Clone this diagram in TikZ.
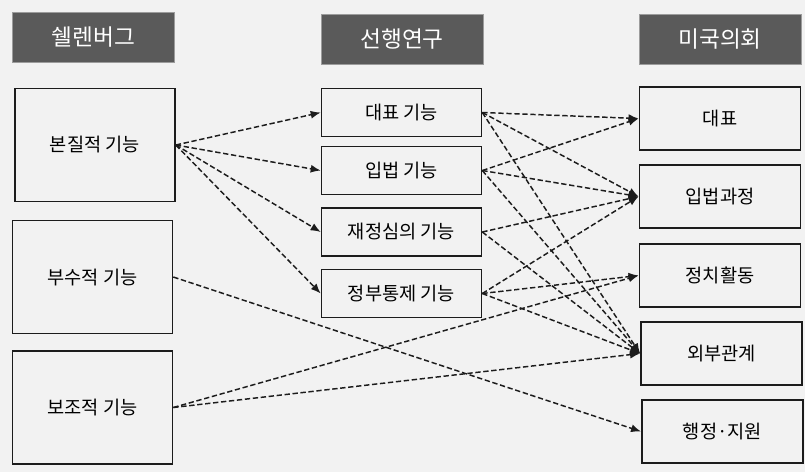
\documentclass[tikz,border=0pt]{standalone}
\usepackage{fontspec}
\setmainfont{Noto Sans CJK KR}
\usepackage{xcolor}
\usetikzlibrary{positioning,arrows.meta}
\definecolor{bgcol}{HTML}{F2F2F2}
\definecolor{headcol}{HTML}{5A5A5A}
\definecolor{linecol}{HTML}{1C1C1C}

\begin{document}
\begin{tikzpicture}[x=0.75pt,y=-0.75pt,
          arrowstyle/.style={->, line width=1.1pt, draw=linecol, dash pattern=on 4pt off 2pt,
                             >={Latex[length=7.5pt, width=6pt]}}]
          % Box styles
          \tikzstyle{headnode} = [fill=headcol, draw=headcol!60, text=white, rectangle, text centered,
                                  minimum width=121.5pt, minimum height=37.5pt, inner sep=0pt,
                                  font=\fontsize{17}{20}\selectfont]
          \tikzstyle{boxnode} = [draw=linecol, line width=1.2pt, rectangle, text centered, inner sep=0pt,
                                 font=\fontsize{14}{17}\selectfont]
          \tikzstyle{bignode} = [boxnode, minimum width=120pt, minimum height=84.75pt]
          \tikzstyle{midnode} = [boxnode, minimum width=120pt, minimum height=36pt]
          \tikzstyle{endnode} = [boxnode, minimum width=121pt, minimum height=47pt]

          % Background and page size
          \fill[bgcol] (0,0) rectangle (805,472);
          \useasboundingbox (0,0) rectangle (805,472);

          % Column headings
          \node (Schellenberg) [headnode] at (93.5,37) {쉘렌버그};
          \node (Prior)        [headnode] at (402,39) {선행연구};
          \node (Congress)     [headnode] at (720,39) {미국의회};

          % Left column
          \node (Essential)  [bignode] at (95,145)    {본질적 기능};
          \node (Incidental) [bignode] at (92.5,277)  {부수적 기능};
          \node (Auxiliary)  [bignode] at (92.5,407.5) {보조적 기능};

          % Middle column
          \node (RepFn)  [midnode] at (401.5,112.5) {대표 기능};
          \node (LegFn)  [midnode] at (401.5,170.5) {입법 기능};
          \node (FinFn)  [midnode] at (401.5,232)   {재정심의 기능};
          \node (CtrlFn) [midnode] at (401.5,293.5) {정부통제 기능};

          % Right column
          \node (Rep)      [endnode] at (720,118.5)   {대표};
          \node (Legis)    [endnode] at (720,196.5)   {입법과정};
          \node (Politic)  [endnode] at (720,275.5)   {정치활동};
          \node (External) [endnode] at (721.5,353.5) {외부관계};
          \node (Admin)    [endnode] at (722.5,431.5) {행정·지원};

          % Arrows from the left column
          \draw[arrowstyle] (Essential.east) -- (RepFn.west);
          \draw[arrowstyle] (Essential.east) -- (LegFn.west);
          \draw[arrowstyle] (Essential.east) -- (FinFn.west);
          \draw[arrowstyle] (Essential.east) -- (CtrlFn.west);
          \draw[arrowstyle] (Incidental.east) -- (Admin.west);
          \draw[arrowstyle] (Auxiliary.east) -- (Politic.west);
          \draw[arrowstyle] (Auxiliary.east) -- (External.west);

          % Arrows from the middle column
          \draw[arrowstyle] (RepFn.east) -- (Rep.west);
          \draw[arrowstyle] (RepFn.east) -- (Legis.west);
          \draw[arrowstyle] (RepFn.east) -- (External.west);
          \draw[arrowstyle] (LegFn.east) -- (Rep.west);
          \draw[arrowstyle] (LegFn.east) -- (Legis.west);
          \draw[arrowstyle] (LegFn.east) -- (External.west);
          \draw[arrowstyle] (FinFn.east) -- (Legis.west);
          \draw[arrowstyle] (FinFn.east) -- (External.west);
          \draw[arrowstyle] (CtrlFn.east) -- (Legis.west);
          \draw[arrowstyle] (CtrlFn.east) -- (Politic.west);
          \draw[arrowstyle] (CtrlFn.east) -- (External.west);

          \end{tikzpicture}
\end{document}
